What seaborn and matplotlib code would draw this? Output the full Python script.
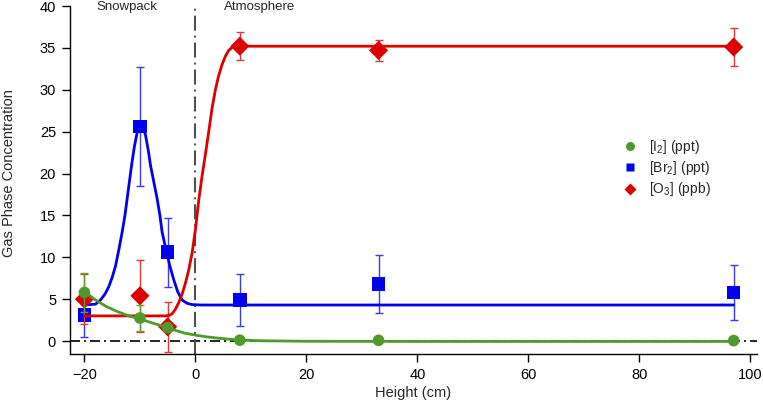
import matplotlib
matplotlib.use("Agg")
import matplotlib.pyplot as plt
import numpy as np
import pandas as pd
import seaborn as sns
from matplotlib.lines import Line2D

# ---- measured points ----
heights = [-20, -10, -5, 8, 33, 97]
i2_ppt = [5.8, 2.75, 1.6, 0.1, 0.08, 0.05]
i2_err = [2.3, 1.5, 0.3, 0.1, 0.1, 0.1]
br2_ppt = [3.1, 25.6, 10.6, 4.9, 6.8, 5.8]
br2_err = [2.6, 7.1, 4.1, 3.1, 3.5, 3.3]
o3_ppb = [5.0, 5.4, 1.7, 35.2, 34.7, 35.1]
o3_err = [3.0, 4.3, 3.0, 1.7, 1.3, 2.3]

# ---- fitted curves ----
br2_fit_x = [-20, -18, -17.1, -16.3, -15.6, -15.0, -14.4, -13.8, -13.2, -12.7, -12.3,
             -11.9, -11.5, -11.0, -10.5, -10.0, -9.5, -9.0, -8.5, -8.1, -7.5, -6.9,
             -6.4, -6.0, -5.6, -5.2, -4.6, -3.9, -3.2, -2.4, -1.5, -0.6, 1, 97]
br2_fit_y = [4.3, 4.4, 4.9, 5.6, 6.5, 7.6, 8.95, 10.9, 13.0, 15.0, 17.0,
             19.0, 21.0, 23.2, 24.9, 25.7, 25.6, 24.6, 22.8, 21.0, 19.0, 17.0,
             15.0, 13.0, 11.8, 10.6, 8.95, 7.3, 5.9, 4.9, 4.5, 4.35, 4.3, 4.3]
o3_fit_x = [-20, -5.5, -4.8, -4.2, -3.6, -3.0, -2.4, -1.8, -1.2, -0.6, 0.0, 0.6, 1.2,
            1.8, 2.4, 3.0, 3.6, 4.2, 4.8, 5.4, 6.0, 6.6, 7.2, 8.0, 97]
o3_fit_y = [3.0, 3.0, 3.05, 3.25, 3.8, 4.6, 5.6, 6.9, 8.5, 10.5, 13.3, 16.8, 19.7,
            22.3, 25.0, 27.8, 30.0, 31.7, 33.0, 34.0, 34.7, 35.05, 35.2, 35.2, 35.2]
i2_fit_x = [-20, -18, -16, -14, -12, -10, -8, -6, -4, -2, 0, 2, 4, 6, 8, 12, 20, 40, 97]
i2_fit_y = [5.9, 4.9, 4.1, 3.5, 3.0, 2.65, 2.2, 1.8, 1.35, 0.95, 0.7, 0.5, 0.35,
            0.22, 0.12, 0.03, -0.03, -0.05, -0.05]

series_labels = ["[I$_2$] (ppt)", "[Br$_2$] (ppt)", "[O$_3$] (ppb)"]
zone_labels = ["Snowpack", "Atmosphere"]

GREEN = "#4f9a2b"
BLUE = "#0000f0"
RED = "#dc0000"

sns.set_theme(style="ticks")
plt.rcParams["font.family"] = ["Liberation Sans", "DejaVu Sans"]
plt.rcParams["mathtext.default"] = "regular"
plt.rcParams["lines.scale_dashes"] = False

fig = plt.figure(figsize=(7.63, 4.08), dpi=100)
ax = fig.add_axes([70 / 763, 1 - 354 / 408, 687 / 763, 348 / 408])

ax.set_xlim(-22.6, 101.2)
ax.set_ylim(-1.55, 40)

# reference lines
ax.axhline(0, color="black", lw=1.2, dashes=(7.2, 2.9, 1.4, 2.9), zorder=1)
ax.axvline(0, color="#505050", lw=1.5, dashes=(10.8, 3.6, 1.4, 3.6), zorder=1)

pts = pd.DataFrame({"h": heights, "i2": i2_ppt, "br2": br2_ppt, "o3": o3_ppb})
fit_b = pd.DataFrame({"x": br2_fit_x, "y": br2_fit_y})
fit_r = pd.DataFrame({"x": o3_fit_x, "y": o3_fit_y})
fit_g = pd.DataFrame({"x": i2_fit_x, "y": i2_fit_y})

# blue (Br2)
ax.errorbar(heights, br2_ppt, yerr=br2_err, fmt="none", ecolor="#3a3af0",
            elinewidth=1.0, capsize=3, capthick=1.0, zorder=2)
sns.lineplot(data=fit_b, x="x", y="y", ax=ax, color=BLUE, lw=2.0, sort=False,
             estimator=None, zorder=3)
sns.scatterplot(data=pts, x="h", y="br2", ax=ax, marker="s", s=95, color=BLUE,
                edgecolor="none", zorder=4)

# red (O3)
ax.errorbar(heights, o3_ppb, yerr=o3_err, fmt="none", ecolor="#d83a3a",
            elinewidth=1.0, capsize=3, capthick=1.0, zorder=5)
sns.lineplot(data=fit_r, x="x", y="y", ax=ax, color=RED, lw=2.0, sort=False,
             estimator=None, zorder=6)
sns.scatterplot(data=pts, x="h", y="o3", ax=ax, marker="D", s=95, color=RED,
                edgecolor="none", zorder=7)

# green (I2)
ax.errorbar(heights, i2_ppt, yerr=i2_err, fmt="none", ecolor="#6a9a3a",
            elinewidth=1.0, capsize=3, capthick=1.0, zorder=8)
sns.lineplot(data=fit_g, x="x", y="y", ax=ax, color=GREEN, lw=2.0, sort=False,
             estimator=None, zorder=9)
sns.scatterplot(data=pts, x="h", y="i2", ax=ax, marker="o", s=70, color=GREEN,
                edgecolor="none", zorder=10)

# zone labels
ax.text(-12.3, 39.9, zone_labels[0], ha="center", va="center", fontsize=9.5)
ax.text(11.6, 39.9, zone_labels[1], ha="center", va="center", fontsize=9.5)

# axes styling
sns.despine(ax=ax)
for s in ["left", "bottom"]:
    ax.spines[s].set_linewidth(1.0)
    ax.spines[s].set_color("black")
ax.set_xticks([-20, 0, 20, 40, 60, 80, 100])
ax.set_yticks([0, 5, 10, 15, 20, 25, 30, 35, 40])
ax.tick_params(direction="out", length=6, width=1.0, labelsize=10.5, pad=4,
               colors="black")
ax.set_xlabel("Height (cm)", fontsize=10.5, labelpad=3)
ax.set_ylabel("Gas Phase Concentration", fontsize=10.5)
ax.yaxis.set_label_coords(-0.078, 0.52)

handles = [
    Line2D([], [], ls="none", marker="o", ms=6.5, color=GREEN, mec="none"),
    Line2D([], [], ls="none", marker="s", ms=6, color=BLUE, mec="none"),
    Line2D([], [], ls="none", marker="D", ms=6, color=RED, mec="none"),
]
ax.legend(handles, series_labels, loc="upper left",
          bbox_to_anchor=(623.5 / 763, 1 - 137.5 / 408),
          bbox_transform=fig.transFigure, frameon=False, fontsize=10,
          borderpad=0, borderaxespad=0, handlelength=1.0, handletextpad=0.83,
          labelspacing=0.25)

fig.savefig("out.png", dpi=100)
